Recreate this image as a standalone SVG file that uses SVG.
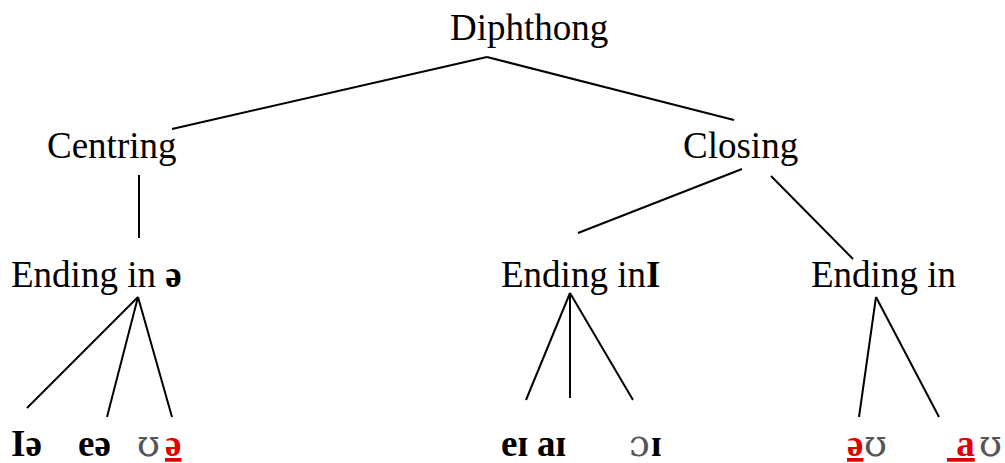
<svg xmlns="http://www.w3.org/2000/svg" width="1005" height="463" viewBox="0 0 1005 463">
<style>
text{font-family:"Liberation Serif","Times New Roman",serif;font-size:37px;fill:#000}
.b{font-weight:bold}
.r{fill:#e00000;font-weight:bold;text-decoration:underline}
.g{fill:#555;font-weight:normal;font-family:"DejaVu Serif",serif;font-size:37px}
line{stroke:#000;stroke-width:2}
</style>
<rect width="1005" height="463" fill="#fff"/>
<g id="connectors">
<line x1="487" y1="57" x2="172" y2="129"/>
<line x1="487" y1="57" x2="734" y2="120"/>
<line x1="139" y1="175" x2="139" y2="238"/>
<line x1="742" y1="169" x2="578" y2="233"/>
<line x1="771" y1="176" x2="853" y2="259"/>
<line x1="138" y1="297" x2="27" y2="408"/>
<line x1="138" y1="297" x2="107" y2="417"/>
<line x1="138" y1="297" x2="172" y2="417"/>
<line x1="570" y1="293" x2="526" y2="400"/>
<line x1="570" y1="293" x2="570" y2="398"/>
<line x1="570" y1="293" x2="633" y2="400"/>
<line x1="876" y1="297" x2="859" y2="417"/>
<line x1="876" y1="297" x2="939" y2="417"/>
</g>
<g id="diphthong"><text x="450" y="40">Diphthong</text></g>
<g id="centring"><text x="47" y="158">Centring</text></g>
<g id="closing"><text x="683" y="158">Closing</text></g>
<g id="ending-schwa"><text x="11" y="287">Ending in <tspan class="b">ə</tspan></text></g>
<g id="ending-i"><text x="501" y="287">Ending in<tspan class="b">I</tspan></text></g>
<g id="ending-u"><text x="811" y="287">Ending in</text></g>
<g id="leaf-ie"><text x="11" y="456" class="b">Iə</text></g>
<g id="leaf-ea"><text x="78" y="456" class="b">eə</text></g>
<g id="leaf-ua"><text x="137" y="456" class="g">ʊ</text><text x="165" y="456" class="r">ə</text></g>
<g id="leaf-ei"><text x="501" y="456" class="b">eɪ</text></g>
<g id="leaf-ai"><text x="537" y="456" class="b">aɪ</text></g>
<g id="leaf-oi"><text x="629" y="456" class="g">ɔ</text><text x="651" y="456" class="b">ɪ</text></g>
<g id="leaf-au1"><text x="847" y="456" class="r">ə</text><text x="864" y="456" class="g">ʊ</text></g>
<g id="leaf-au2"><text x="947" y="456" class="r" xml:space="preserve"> a</text><text x="979" y="456" class="g">ʊ</text></g>
</svg>
